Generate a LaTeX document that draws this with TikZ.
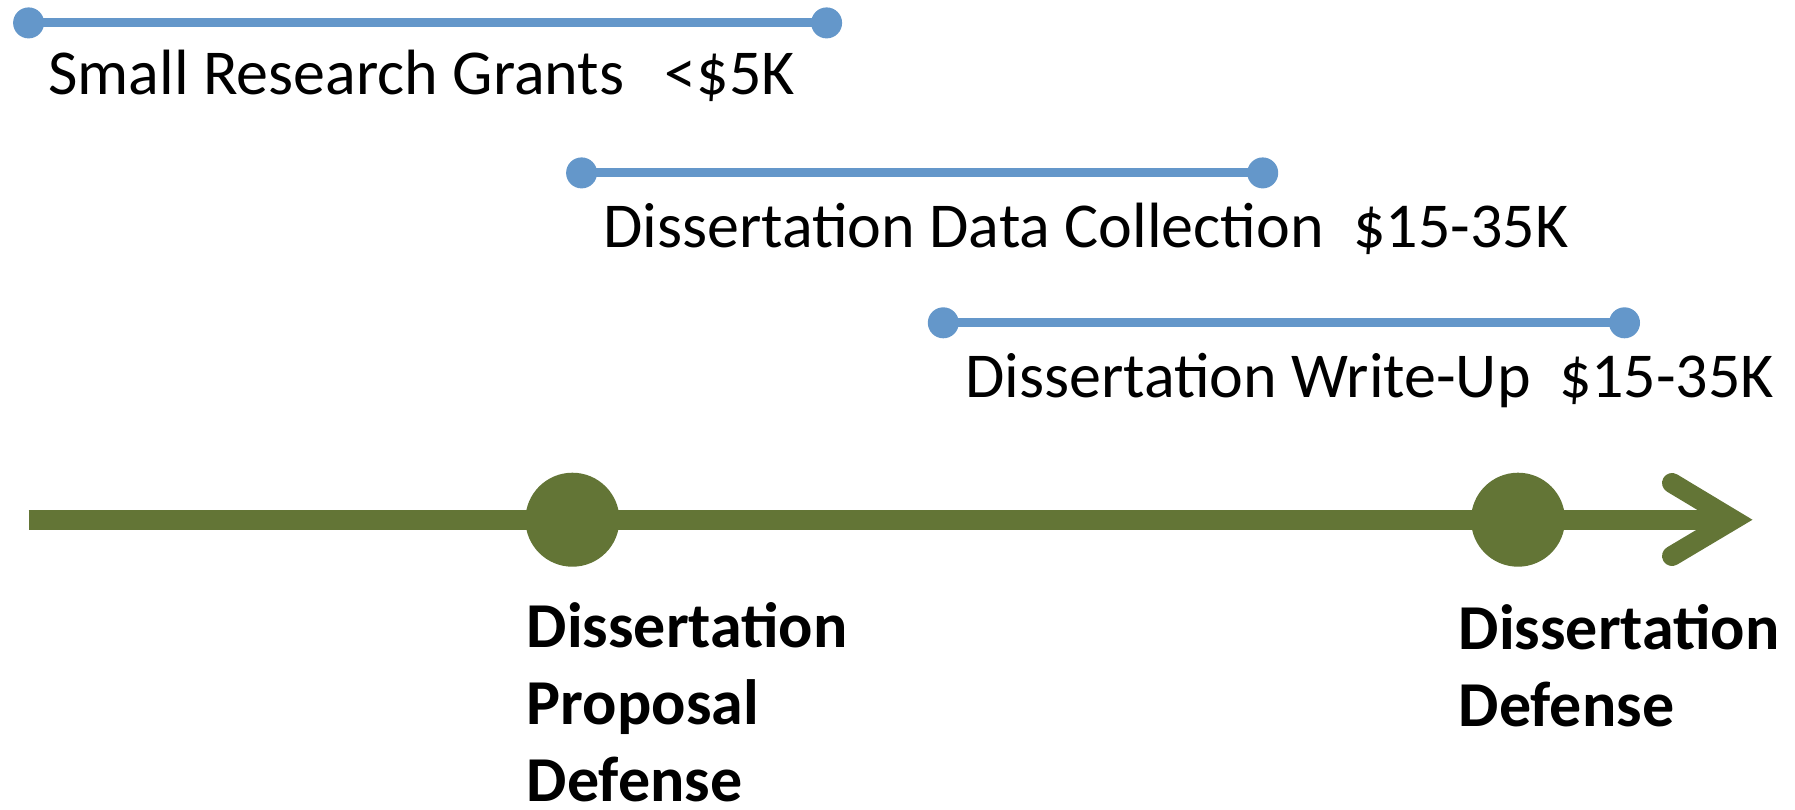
\documentclass[tikz,border=0pt]{standalone}
\usepackage{fontspec}
\setmainfont{Carlito}
\definecolor{barblue}{HTML}{6497CA}
\definecolor{axisgreen}{HTML}{637536}
\begin{document}
\begin{tikzpicture}[x=1pt,y=-1pt,
  bar/.style={draw=barblue,line width=9pt},
  bdot/.style={circle,fill=barblue,inner sep=0pt,minimum size=31pt},
  gdot/.style={circle,fill=axisgreen,inner sep=0pt,minimum size=94pt},
  axis/.style={draw=axisgreen,line width=20pt},
  lab/.style={anchor=base west,inner sep=0pt,font=\fontsize{64}{72}\selectfont},
  blab/.style={anchor=base west,inner sep=0pt,align=left,font=\fontsize{64}{77}\selectfont\bfseries}]
\useasboundingbox (0,0) rectangle (1795,809);
% blue bars
\node[bdot] (a1) at (28.6,22.9) {};
\node[bdot] (a2) at (826.6,22.9) {};
\node[bdot] (b1) at (581.6,172.9) {};
\node[bdot] (b2) at (1262.7,172.9) {};
\node[bdot] (c1) at (943.3,322.8) {};
\node[bdot] (c2) at (1624.5,322.8) {};
\draw[bar] (a1.center) -- (a2.center);
\draw[bar] (b1.center) -- (b2.center);
\draw[bar] (c1.center) -- (c2.center);
\node[lab] (ta) at (48,94) {Small Research Grants\hspace{26pt} <\$5K};
\node[lab] (tb) at (603,247) {Dissertation Data Collection\hspace{15pt} \$15-35K};
\node[lab] (tc) at (965,397) {Dissertation Write-Up\hspace{14pt} \$15-35K};
% axis
\coordinate (s) at (28.6,519.7);
\coordinate (tip) at (1733,519.7);
\coordinate (u) at (1672,483);
\coordinate (l) at (1672,556);
\draw[axis] (s) -- (tip);
\draw[axis,line cap=round,line join=miter] (u) -- (tip) -- (l);
\node[gdot] (p1) at (572.4,519.7) {};
\node[gdot] (p2) at (1518,519.7) {};
\node[blab] (lp1) at (526.6,801) {Dissertation\\Proposal\\Defense};
\node[blab] (lp2) at (1458.5,726) {Dissertation\\Defense};
\end{tikzpicture}
\end{document}
